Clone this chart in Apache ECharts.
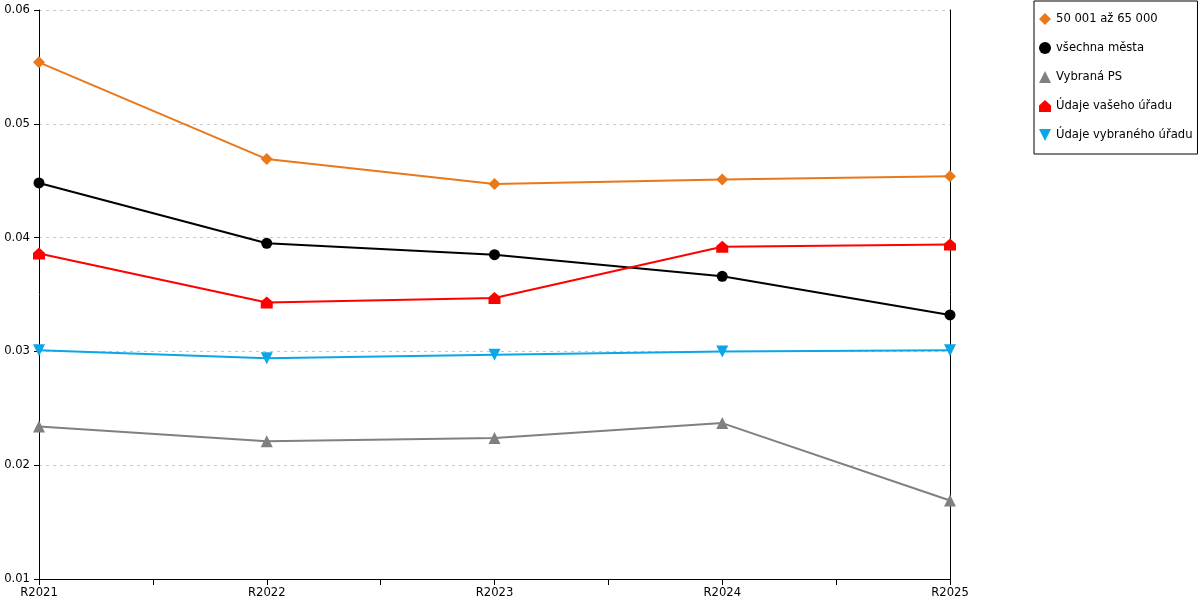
<!DOCTYPE html>
<html><head><meta charset="utf-8">
<script src="https://cdn.jsdelivr.net/npm/echarts@6/dist/echarts.min.js"></script>
<style>html,body{margin:0;padding:0;background:#fff}#c{width:1200px;height:600px}</style>
</head><body><div id="c"></div>
<script>
const categories = ['R2021','R2022','R2023','R2024','R2025'];
const seriesNames = ['50 001 až 65 000','všechna města','Vybraná PS','Údaje vašeho úřadu','Údaje vybraného úřadu'];
const s5000165000 = [0.0554, 0.0469, 0.0447, 0.0451, 0.0454];
const sVsechnaMesta = [0.0448, 0.0395, 0.0385, 0.0366, 0.0332];
const sVybranaPS = [0.0234, 0.0221, 0.0224, 0.0237, 0.0169];
const sVasUrad = [0.0386, 0.0343, 0.0347, 0.0392, 0.0394];
const sVybranyUrad = [0.0301, 0.0294, 0.0297, 0.0300, 0.0301];
const yTicks = {min: 0.01, max: 0.06, interval: 0.01};

const house = 'path://M0,4.5 L5,0 L10,4.5 L10,10 L0,10 Z';
const downTri = 'path://M0,0 L10,0 L5,10 Z';
const styles = [
  {color:'#E8781A', symbol:'diamond', size:12},
  {color:'#000000', symbol:'circle', size:11},
  {color:'#808080', symbol:'triangle', size:12},
  {color:'#FF0000', symbol:house, size:12},
  {color:'#0BA6E8', symbol:downTri, size:12}
];
const allData = [s5000165000, sVsechnaMesta, sVybranaPS, sVasUrad, sVybranyUrad];
const font = 'DejaVu Sans';

const chart = echarts.init(document.getElementById('c'));
chart.setOption({
  animation:false,
  textStyle:{fontFamily:font},
  grid:{left:39,right:250,top:10,bottom:21,containLabel:false},
  legend:{
    orient:'vertical', left:1034, top:1,
    padding:[12,5,13,5], itemGap:17, itemWidth:12, itemHeight:12,
    borderColor:'#000', borderWidth:1,
    textStyle:{fontFamily:font, fontSize:11.6, color:'#000'},
    data: seriesNames.map((n,i)=>({name:n, icon: styles[i].symbol, itemStyle:{color:styles[i].color}}))
  },
  xAxis:{
    type:'value', min:0, max:categories.length-1, interval:0.5,
    axisLine:{show:true, onZero:false, lineStyle:{color:'#000',width:1}},
    axisTick:{show:true, length:6, lineStyle:{color:'#000'}},
    splitLine:{show:false},
    axisLabel:{fontFamily:font, fontSize:11.6, color:'#000', margin:8,
      formatter:v=> Number.isInteger(v) ? categories[v] : ''}
  },
  yAxis:[{
    type:'value', min:yTicks.min, max:yTicks.max, interval:yTicks.interval,
    axisLine:{show:true, lineStyle:{color:'#000',width:1}},
    axisTick:{show:true, length:5, lineStyle:{color:'#000'}},
    splitLine:{show:true, lineStyle:{color:'#c8c8c8', type:[3,4], width:1}},
    axisLabel:{fontFamily:font, fontSize:11.6, color:'#000', margin:9, formatter:v=>v.toFixed(2)}
  },{
    type:'value', position:'right', min:yTicks.min, max:yTicks.max, interval:yTicks.interval,
    axisLine:{show:true, lineStyle:{color:'#000',width:1}},
    axisTick:{show:false}, axisLabel:{show:false}, splitLine:{show:false}
  }],
  series: seriesNames.map((n,i)=>({
    name:n, type:'line', yAxisIndex:0,
    data: allData[i].map((v,j)=>[j,v]),
    symbol: styles[i].symbol, symbolSize: styles[i].size,
    showAllSymbol:true,
    lineStyle:{color:styles[i].color, width:2},
    itemStyle:{color:styles[i].color},
    z: 3
  }))
});
</script></body></html>
